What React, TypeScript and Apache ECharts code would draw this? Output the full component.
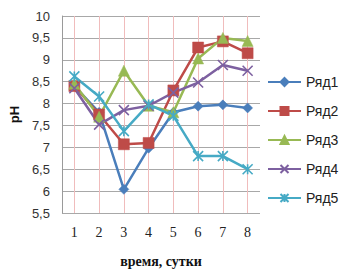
import React, { useEffect, useRef } from "react";
import * as echarts from "echarts";

const categories = ["1", "2", "3", "4", "5", "6", "7", "8"];
const seriesNames = ["Ряд1", "Ряд2", "Ряд3", "Ряд4", "Ряд5"];
const row1 = [8.4, 7.8, 6.04, 6.98, 7.8, 7.94, 7.97, 7.9];
const row2 = [8.4, 7.75, 7.07, 7.1, 8.3, 9.28, 9.42, 9.15];
const row3 = [8.45, 7.7, 8.75, 7.95, 7.8, 9.03, 9.5, 9.43];
const row4 = [8.35, 7.52, 7.85, 7.95, 8.25, 8.48, 8.88, 8.75];
const row5 = [8.62, 8.16, 7.37, 7.98, 7.72, 6.8, 6.8, 6.5];
const yTicks = { min: 5.5, max: 10, interval: 0.5 };

const colors = ["#4A7EBB", "#BE4B48", "#98B954", "#7D60A0", "#46AAC5"];
const symbols = [
  "diamond",
  "rect",
  "triangle",
  "path://M0,0L10,10M10,0L0,10",
  "path://M5,0L5,10M0,0L10,10M10,0L0,10",
];
const symbolSizes = [10, 11, 11, 10, 10];

export default function App() {
  const ref = useRef<HTMLDivElement>(null);
  useEffect(() => {
    const chart = echarts.init(ref.current!, undefined, { renderer: "svg" });
    const data = [row1, row2, row3, row4, row5];
    chart.setOption({
      animation: false,
      backgroundColor: "#ffffff",
      grid: { left: 60, right: 81, top: 16, bottom: 50, containLabel: false },
      legend: {
        orient: "vertical",
        left: 262,
        top: 70,
        itemWidth: 33,
        itemHeight: 10,
        itemGap: 15,
        data: seriesNames,
        textStyle: { fontFamily: "Liberation Sans, Arial, sans-serif", fontSize: 14, color: "#222" },
      },
      xAxis: {
        type: "category",
        data: categories,
        boundaryGap: true,
        name: "время, сутки",
        nameLocation: "middle",
        nameGap: 41,
        nameTextStyle: { fontFamily: "Liberation Serif, Times New Roman, serif", fontWeight: "bold", fontSize: 14, color: "#111" },
        axisLine: { show: false },
        axisTick: { show: false },
        axisLabel: { fontFamily: "Liberation Serif, Times New Roman, serif", fontSize: 14, color: "#222", margin: 12 },
        splitLine: { show: true, alignWithLabel: true, lineStyle: { color: "#f0bcbc", width: 1 } },
      },
      yAxis: {
        type: "value",
        min: yTicks.min,
        max: yTicks.max,
        interval: yTicks.interval,
        name: "pH",
        nameLocation: "middle",
        nameGap: 36,
        nameTextStyle: { fontFamily: "Liberation Sans, Arial, sans-serif", fontWeight: "bold", fontSize: 13, color: "#111" },
        axisLine: { show: true, lineStyle: { color: "#9a9a9a", width: 1 } },
        axisTick: { show: false },
        axisLabel: {
          fontFamily: "Liberation Sans, Arial, sans-serif",
          fontSize: 13,
          color: "#333",
          margin: 12,
          formatter: (v: number) => String(v).replace(".", ","),
        },
        splitLine: { show: true, lineStyle: { color: "#a8a8a8", width: 1 } },
      },
      series: seriesNames.map((name, i) => ({
        name,
        type: "line",
        data: data[i],
        symbol: symbols[i],
        symbolSize: symbolSizes[i],
        lineStyle: { color: colors[i], width: 2.5 },
        itemStyle: { color: colors[i], borderColor: colors[i], borderWidth: i >= 3 ? 1.6 : 0.5 },
      })),
    });
    return () => chart.dispose();
  }, []);
  return <div ref={ref} style={{ position: "fixed", left: 0, top: 0, width: 341, height: 273 }} />;
}
